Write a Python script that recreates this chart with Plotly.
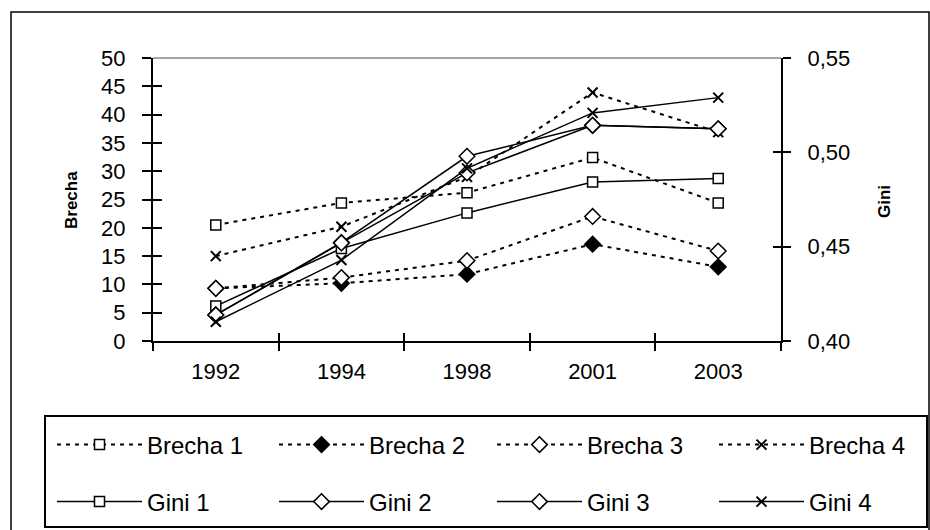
import plotly.graph_objects as go

years = ["1992", "1994", "1998", "2001", "2003"]

brecha_1 = [20.5, 24.4, 26.2, 32.4, 24.4]
brecha_2 = [9.3, 10.2, 11.8, 17.1, 13.1]
brecha_3 = [9.3, 11.2, 14.2, 22.0, 15.9]
brecha_4 = [15.0, 20.2, 29.0, 43.9, 36.9]

gini_1 = [0.4185, 0.4490, 0.4679, 0.4843, 0.4861]
gini_2 = [0.4138, 0.4522, 0.4979, 0.5143, 0.5125]
gini_3 = [0.4138, 0.4520, 0.4891, 0.5143, 0.5125]
gini_4 = [0.4102, 0.4429, 0.4915, 0.5209, 0.5290]

brecha_ticks = [0, 5, 10, 15, 20, 25, 30, 35, 40, 45, 50]
gini_ticks = [0.40, 0.45, 0.50, 0.55]

FONT = "Arial, Liberation Sans, sans-serif"
DASH = "4px,5px"

fig = go.Figure()

def marker(sym, size, fill="white"):
    return dict(symbol=sym, size=size, color=fill,
                line=dict(color="black", width=1.5))

X_MARK = dict(symbol="x-thin", size=10, color="black",
              line=dict(color="black", width=2))

brecha_specs = [
    ("Brecha 1", brecha_1, marker("square", 10), "legend"),
    ("Brecha 2", brecha_2, marker("diamond", 12, "black"), "legend"),
    ("Brecha 3", brecha_3, marker("diamond", 12), "legend2"),
    ("Brecha 4", brecha_4, X_MARK, "legend2"),
]
gini_specs = [
    ("Gini 1", gini_1, marker("square", 10), "legend3"),
    ("Gini 2", gini_2, marker("diamond", 12), "legend3"),
    ("Gini 3", gini_3, marker("diamond", 12), "legend4"),
    ("Gini 4", gini_4, X_MARK, "legend4"),
]

for name, vals, mk, lg in gini_specs:
    fig.add_trace(go.Scatter(
        x=years, y=vals, name=name, mode="lines+markers", yaxis="y2",
        line=dict(color="black", width=1.5), marker=mk, legend=lg))

for name, vals, mk, lg in brecha_specs:
    fig.add_trace(go.Scatter(
        x=years, y=vals, name=name, mode="lines+markers", yaxis="y",
        line=dict(color="black", width=2, dash=DASH), marker=mk, legend=lg))

W, H = 930, 530
L, R, T, B = 153, 781, 58, 341
pw, ph = R - L, B - T

def px_x(sx):
    return (sx - L) / pw

def px_y(sy):
    return (B - sy) / ph

legend_common = dict(
    orientation="h", xanchor="left", yanchor="middle",
    font=dict(family=FONT, size=24, color="black"),
    bgcolor="rgba(0,0,0,0)", borderwidth=0,
    entrywidth=122, entrywidthmode="pixels", itemwidth=85,
)

ROW1, ROW2 = 445, 502
COL1, COL3 = 52, 492

fig.update_layout(
    width=W, height=H,
    margin=dict(l=L, r=W - R, t=T, b=H - B, autoexpand=False),
    paper_bgcolor="white", plot_bgcolor="white",
    separators=",.",
    font=dict(family=FONT, size=22, color="black"),
    xaxis=dict(
        type="category", categoryorder="array", categoryarray=years,
        range=[-0.5, 4.5],
        showline=True, linecolor="black", linewidth=2,
        ticks="outside", tickson="boundaries", ticklen=8, tickwidth=2,
        tickcolor="black", showgrid=False, zeroline=False,
        tickfont=dict(family=FONT, size=22, color="black"),
        ticklabelstandoff=10,
    ),
    xaxis2=dict(
        overlaying="x", range=[-0.5, 4.5], tickvals=[-0.5, 0.5, 1.5, 2.5, 3.5, 4.5],
        ticks="inside", ticklen=8, tickwidth=2, tickcolor="black",
        showticklabels=False, showline=False, showgrid=False, zeroline=False,
        side="bottom", anchor="y",
    ),
    yaxis=dict(
        range=[0, 50], tickvals=brecha_ticks,
        showline=True, linecolor="black", linewidth=2,
        ticks="outside", ticklen=9, tickwidth=2, tickcolor="black",
        showgrid=False, zeroline=False,
        tickfont=dict(family=FONT, size=22, color="black"),
        ticklabelstandoff=12,
    ),
    yaxis3=dict(
        overlaying="y", range=[0, 50], tickvals=brecha_ticks, side="left",
        anchor="x", ticks="inside", ticklen=9, tickwidth=2, tickcolor="black",
        showticklabels=False, showline=False, showgrid=False, zeroline=False,
    ),
    yaxis2=dict(
        overlaying="y", side="right", anchor="x",
        range=[0.40, 0.55], tickvals=gini_ticks, tickformat=".2f",
        showline=True, linecolor="black", linewidth=2,
        ticks="outside", ticklen=8, tickwidth=2, tickcolor="black",
        showgrid=False, zeroline=False,
        tickfont=dict(family=FONT, size=22, color="black"),
        ticklabelstandoff=12,
    ),
    yaxis4=dict(
        overlaying="y", side="right", anchor="x",
        range=[0.40, 0.55], tickvals=gini_ticks,
        ticks="inside", ticklen=8, tickwidth=2, tickcolor="black",
        showticklabels=False, showline=False, showgrid=False, zeroline=False,
    ),
    legend=dict(x=px_x(COL1), y=px_y(ROW1), **legend_common),
    legend2=dict(x=px_x(COL3), y=px_y(ROW1), **legend_common),
    legend3=dict(x=px_x(COL1), y=px_y(ROW2), **legend_common),
    legend4=dict(x=px_x(COL3), y=px_y(ROW2), **legend_common),
    showlegend=True,
)

# invisible traces that keep the overlay tick axes alive
fig.add_trace(go.Scatter(x=[None], y=[None], xaxis="x2", yaxis="y3",
                         showlegend=False, hoverinfo="skip"))
fig.add_trace(go.Scatter(x=[None], y=[None], yaxis="y4",
                         showlegend=False, hoverinfo="skip"))

shapes = [
    dict(type="rect", xref="paper", yref="paper",
         x0=px_x(11), x1=px_x(929), y0=px_y(540), y1=px_y(12),
         line=dict(color="black", width=1.5), fillcolor="rgba(0,0,0,0)", layer="below"),
    dict(type="rect", xref="paper", yref="paper",
         x0=px_x(45), x1=px_x(927), y0=px_y(527), y1=px_y(416),
         line=dict(color="black", width=2), fillcolor="rgba(0,0,0,0)"),
    dict(type="line", xref="paper", yref="paper", x0=0, x1=1, y0=1, y1=1,
         line=dict(color="#888888", width=1.5)),
]
fig.update_layout(shapes=shapes)

annotations = [
    dict(text="<b>Brecha</b>", xref="paper", yref="paper",
         x=px_x(71), y=px_y(200), xanchor="center", yanchor="middle",
         textangle=-90, showarrow=False,
         font=dict(family=FONT, size=17, color="black")),
    dict(text="<b>Gini</b>", xref="paper", yref="paper",
         x=px_x(884), y=px_y(201), xanchor="center", yanchor="middle",
         textangle=-90, showarrow=False,
         font=dict(family=FONT, size=17, color="black")),
]
fig.update_layout(annotations=annotations)

fig.write_html(
    "out.html",
    config={"displayModeBar": False},
    post_script="document.body.style.margin='0';document.body.style.overflow='hidden';",
)
